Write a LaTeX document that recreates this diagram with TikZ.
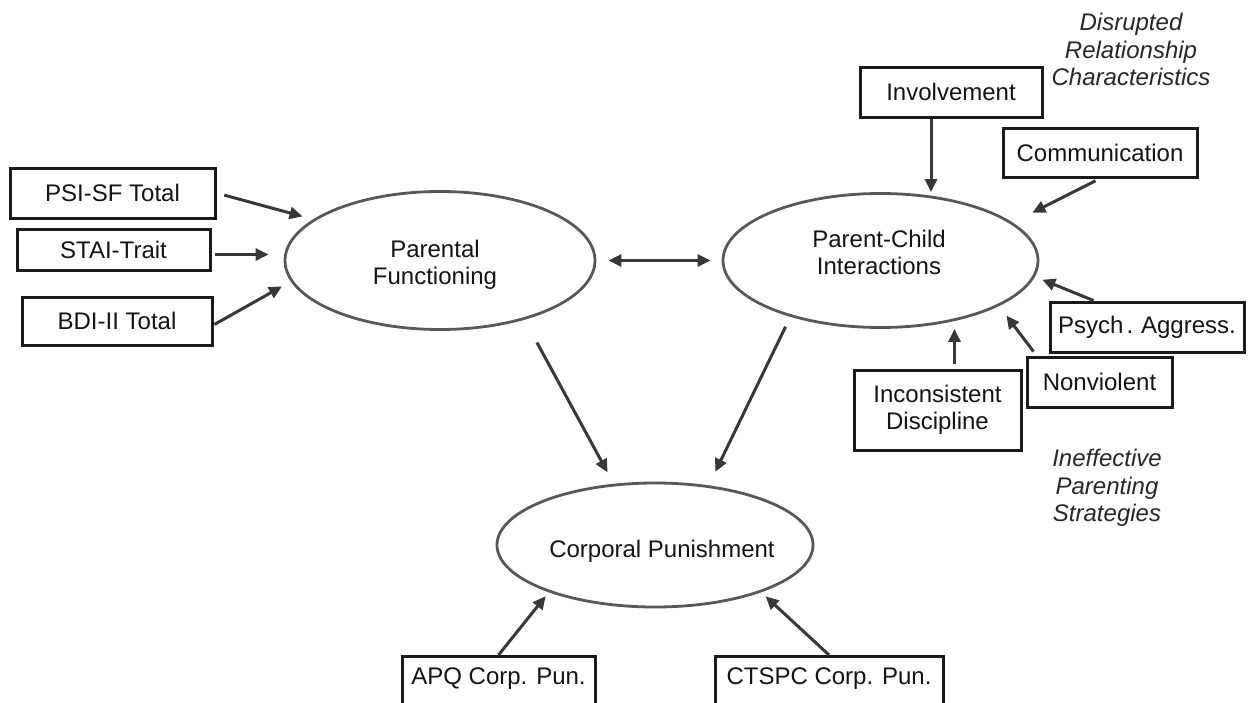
\documentclass[tikz,border=0pt]{standalone}
\usepackage{fontspec}
\setmainfont{Liberation Sans}
\usetikzlibrary{arrows.meta,calc,shapes.geometric}
\definecolor{boxline}{HTML}{1A1A1A}
\definecolor{ellline}{HTML}{585858}
\definecolor{arrline}{HTML}{383838}
\definecolor{txtcol}{HTML}{141414}
\begin{document}
\begin{tikzpicture}[x=1pt,y=-1pt,
  box/.style={draw=boxline,line width=3pt,inner sep=0pt,align=center,
    font=\fontsize{24}{27}\selectfont,text=txtcol},
  ell/.style={draw=ellline,line width=2.8pt,ellipse,inner sep=0pt},
  lbl/.style={inner sep=0pt,align=center,font=\fontsize{24}{27}\selectfont,text=txtcol},
  note/.style={inner sep=0pt,align=center,font=\fontsize{24}{27.5}\selectfont\itshape,text=txtcol!92},
  arr/.style={draw=arrline,line width=3pt,-{Triangle[length=13pt,width=12pt]}},
  darr/.style={draw=arrline,line width=3pt,{Triangle[length=13pt,width=12pt]}-{Triangle[length=13pt,width=12pt]}}
]
\useasboundingbox (0,0) rectangle (1250,702);
\fill[white] (0,0) rectangle (1250,702);

% latent variables
\node[ell,minimum width=310,minimum height=138] (pf) at (440,260.5) {};
\node[ell,minimum width=315,minimum height=134] (pc) at (880.5,260.5) {};
\node[ell,minimum width=316,minimum height=124] (cp) at (655,545) {};
\node[lbl,anchor=north] (pft) at (435,239.5) {\fontsize{24}{19}\selectfont Parental\\Functioning};
\node[lbl,anchor=north] (pct) at (879,229.5) {Parent-Child\\Interactions};
\node[lbl,anchor=base] (cpt) at (662,557) {Corporal Punishment};

% indicators
\node[box,minimum width=205,minimum height=50] (psi) at (112.5,193) {PSI-SF Total};
\node[box,minimum width=193,minimum height=41] (stai) at (113.5,249.5) {STAI-Trait};
\node[box,minimum width=190,minimum height=48] (bdi) at (117,321) {BDI-II Total};
\node[box,minimum width=182,minimum height=50] (inv) at (951,92) {Involvement};
\node[box,minimum width=194,minimum height=49] (com) at (1100,152.5) {Communication};
\node[box,minimum width=194,minimum height=50] (psych) at (1147,327) {Psych\kern3pt.\kern-1pt{} Aggress.};
\node[box,minimum width=145,minimum height=50] (nonv) at (1099.5,382) {Nonviolent};
\node[box,minimum width=167,minimum height=80] (incon) at (937.5,410) {Inconsistent\\Discipline};
\node[box,minimum width=193,text height=28pt,text depth=30pt,anchor=north] (apq) at (498.5,655) {APQ Corp. Pun.};
\node[box,minimum width=228,text height=28pt,text depth=30pt,anchor=north] (ctspc) at (829,655) {CTSPC Corp. Pun.};

% group labels
\node[note,anchor=north] (drc) at (1131,13) {Disrupted\\Relationship\\Characteristics};
\node[note,anchor=north] (ips) at (1107,449) {Ineffective\\Parenting\\Strategies};

% helper coordinates
\coordinate (staio) at ($(stai.east)+(0,5)$);
\coordinate (bdio) at ($(bdi.east)+(0,4)$);
\coordinate (invo) at ($(inv.south)+(-20,0)$);
\coordinate (psyo) at ($(psych.north west)+(45,0)$);
\coordinate (nono) at ($(nonv.north west)+(11,0)$);
\coordinate (inco) at ($(incon.north)+(17,0)$);

% connectors
\draw[arr,shorten <=8pt,shorten >=11pt] (psi.east) -- (pf.162);
\draw[arr,shorten <=3pt,shorten >=15pt] (staio) -- (staio -| pf.west);
\draw[arr,shorten <=1pt,shorten >=10pt] (bdio) -- (pf.188);
\draw[darr,shorten <=12pt,shorten >=11pt] (pf.east) -- (pc.west);
\draw[arr] (invo) -- (invo |- pc.north);
\draw[arr,shorten <=5pt,shorten >=22pt] (com.south) -- (pc.16);
\draw[arr,shorten >=8pt] (psyo) -- (pc.-6);
\draw[arr,shorten <=5pt,shorten >=12pt] (nono) -- (pc.-21);
\draw[arr,shorten <=5pt] (inco) -- (inco |- pc.south);
\draw[arr,shorten <=26pt,shorten >=13pt] (pf.-35) -- (cp.124);
\draw[arr,shorten <=11pt,shorten >=15pt] (pc.212) -- (cp.48);
\draw[arr,shorten >=5pt] (apq.north) -- (cp.204);
\draw[arr,shorten >=6pt] (ctspc.north) -- (cp.-24);
\end{tikzpicture}
\end{document}
